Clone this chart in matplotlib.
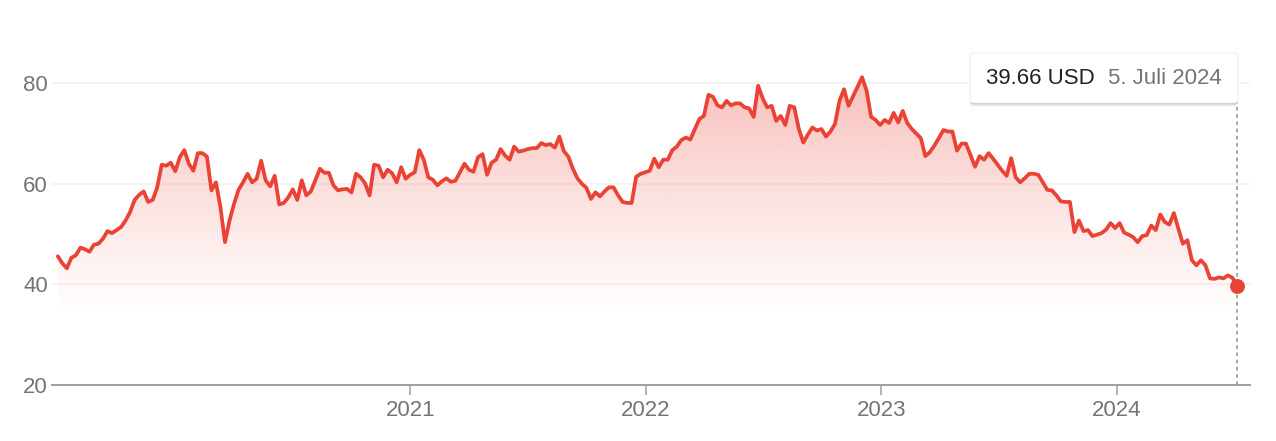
import numpy as np
import pandas as pd
import matplotlib
matplotlib.use("Agg")
import matplotlib.pyplot as plt
import matplotlib.dates as mdates
from matplotlib.patches import FancyBboxPatch
from matplotlib.transforms import IdentityTransform
from matplotlib.colors import to_rgb

plt.rcParams['font.family'] = ['Liberation Sans', 'DejaVu Sans']

# ---------------- data ----------------
start_date = "2019-07-05"
end_date = "2024-07-05"
prices = [
    45.6, 44.2, 43.2, 45.3, 45.8, 47.3, 47.0, 46.5, 47.9, 48.1,
    49.1, 50.6, 50.2, 50.8, 51.4, 52.7, 54.4, 56.8, 57.8, 58.5,
    56.4, 56.8, 59.3, 63.8, 63.6, 64.2, 62.5, 65.3, 66.7, 64.0,
    62.6, 66.1, 66.1, 65.4, 58.7, 60.3, 55.3, 48.4, 52.7, 56.0,
    58.8, 60.3, 62.0, 60.3, 61.0, 64.6, 60.7, 59.5, 61.6, 55.9,
    56.2, 57.3, 58.9, 56.8, 60.7, 57.7, 58.5, 60.7, 63.0, 62.2,
    62.2, 59.7, 58.7, 58.9, 59.0, 58.3, 62.0, 61.3, 60.1, 57.7,
    63.8, 63.6, 61.3, 62.8, 62.1, 60.3, 63.3, 61.0, 61.8, 62.3,
    66.7, 64.8, 61.3, 60.8, 59.7, 60.5, 61.1, 60.4, 60.6, 62.3,
    64.0, 62.8, 62.4, 65.3, 65.9, 61.8, 64.2, 64.8, 66.9, 65.6,
    64.8, 67.4, 66.4, 66.6, 66.9, 67.1, 67.1, 68.1, 67.7, 67.9,
    67.2, 69.4, 66.5, 65.4, 63.0, 61.1, 60.0, 59.2, 57.0, 58.3,
    57.5, 58.5, 59.3, 59.3, 57.7, 56.4, 56.2, 56.2, 61.4, 62.0,
    62.3, 62.6, 65.0, 63.3, 64.8, 64.8, 66.7, 67.4, 68.7, 69.2,
    68.8, 70.9, 72.9, 73.5, 77.7, 77.3, 75.6, 75.2, 76.5, 75.6,
    76.0, 76.0, 75.2, 75.0, 73.3, 79.5, 77.0, 75.2, 75.5, 72.5,
    73.5, 71.7, 75.5, 75.2, 70.9, 68.2, 69.8, 71.2, 70.6, 70.9,
    69.4, 70.4, 71.9, 76.5, 78.8, 75.5, 77.4, 79.3, 81.2, 78.5,
    73.3, 72.7, 71.7, 72.7, 72.1, 74.1, 72.2, 74.5, 72.1, 70.9,
    70.0, 69.1, 65.5, 66.3, 67.6, 69.1, 70.7, 70.4, 70.4, 66.6,
    68.0, 68.0, 65.7, 63.4, 65.5, 64.8, 66.1, 65.0, 63.8, 62.6,
    61.6, 65.1, 61.3, 60.3, 61.1, 62.0, 62.0, 61.8, 60.3, 58.8,
    58.7, 57.7, 56.5, 56.4, 56.4, 50.4, 52.7, 50.6, 50.8, 49.6,
    49.9, 50.2, 50.9, 52.2, 51.2, 52.2, 50.3, 49.9, 49.4, 48.4,
    49.6, 49.8, 51.7, 50.8, 53.9, 52.4, 51.9, 54.2, 51.1, 48.1,
    48.8, 44.8, 43.8, 44.8, 43.8, 41.2, 41.1, 41.4, 41.2, 41.8,
    41.3, 39.66,
]
year_ticks = ["2021-01-01", "2022-01-01", "2023-01-01", "2024-01-01"]
year_labels = ["2021", "2022", "2023", "2024"]
y_ticks = [20, 40, 60, 80]
y_labels = ["20", "40", "60", "80"]
last_price_label = "39.66 USD"
last_date_label = "5. Juli 2024"

# ---------------- style ----------------
W, H, DPI = 1276, 441, 100
RED = "#ea4335"
GRID = "#f1f3f4"
AXIS = "#9aa0a6"
LABEL = "#70757a"

dates = pd.date_range(start_date, end_date, freq="7D")
x = mdates.date2num(dates)
y = np.asarray(prices, dtype=float)

fig = plt.figure(figsize=(W / DPI, H / DPI), dpi=DPI)
fig.patch.set_facecolor("white")
ax = fig.add_axes([52 / W, 1 - 385 / H, (1250 - 52) / W, (385 - 43) / H])
ax.set_facecolor("white")

# gradient area under the line
base = 33.9
poly = ax.fill_between(x, y, base, color="none", lw=0)
n = 256
grad = np.zeros((n, 1, 4))
grad[:, 0, :3] = to_rgb(RED)
grad[:, 0, 3] = np.linspace(0.0, 0.35, n) ** 1.05
im = ax.imshow(grad, aspect="auto", extent=[x[0], x[-1], base, y.max()],
               origin="lower", zorder=1, interpolation="bilinear")
im.set_clip_path(poly.get_paths()[0], transform=ax.transData)

ax.plot(x, y, color=RED, lw=2.7, solid_joinstyle="round", solid_capstyle="round", zorder=3)

# limits
ax.set_xlim(mdates.date2num(pd.Timestamp("2019-06-26")), mdates.date2num(pd.Timestamp("2024-07-25")))
ax.set_ylim(20, 88)

# y axis
ax.set_yticks(y_ticks)
ax.set_yticklabels(y_labels)
ax.yaxis.grid(True, color=GRID, lw=1.2, zorder=0)
ax.set_axisbelow(True)
ax.tick_params(axis="y", length=0, pad=3, labelcolor=LABEL, labelsize=16)

# x axis
ax.set_xticks(mdates.date2num(pd.to_datetime(year_ticks)))
ax.set_xticklabels(year_labels)
ax.tick_params(axis="x", length=7, width=1.1, color=AXIS, pad=3.5, labelcolor=LABEL, labelsize=16)

for s in ["left", "right", "top"]:
    ax.spines[s].set_visible(False)
ax.spines["bottom"].set_color(AXIS)
ax.spines["bottom"].set_linewidth(1.4)

# dotted cursor line and last point
ax.axvline(x[-1], ymin=0, ymax=(385 - 103) / (385 - 43), color=AXIS, lw=1.3,
           ls=(0, (2, 2)), zorder=2)
ax.scatter([x[-1]], [y[-1]], s=115, color=RED, zorder=5, clip_on=False, linewidths=0)

# tooltip
tr = IdentityTransform()
bx, by, bw, bh = 970, H - 103, 268, 50
for off, a in [(4, 0.04), (3, 0.06), (2, 0.09), (1, 0.13)]:
    fig.patches.append(FancyBboxPatch((bx, by - off), bw, bh, boxstyle="round,pad=0,rounding_size=4",
                                      transform=tr, facecolor="#3c4043", alpha=a, edgecolor="none"))
fig.patches.append(FancyBboxPatch((bx, by), bw, bh, boxstyle="round,pad=0,rounding_size=4",
                                  transform=tr, facecolor="white", edgecolor="#e8eaed", lw=0.6))
fig.text(986 / W, 1 - 78 / H, last_price_label, va="center", ha="left", color="#202124", fontsize=16)
fig.text(1108 / W, 1 - 78 / H, last_date_label, va="center", ha="left", color=LABEL, fontsize=16)

fig.savefig("out.png", dpi=DPI, facecolor="white")
